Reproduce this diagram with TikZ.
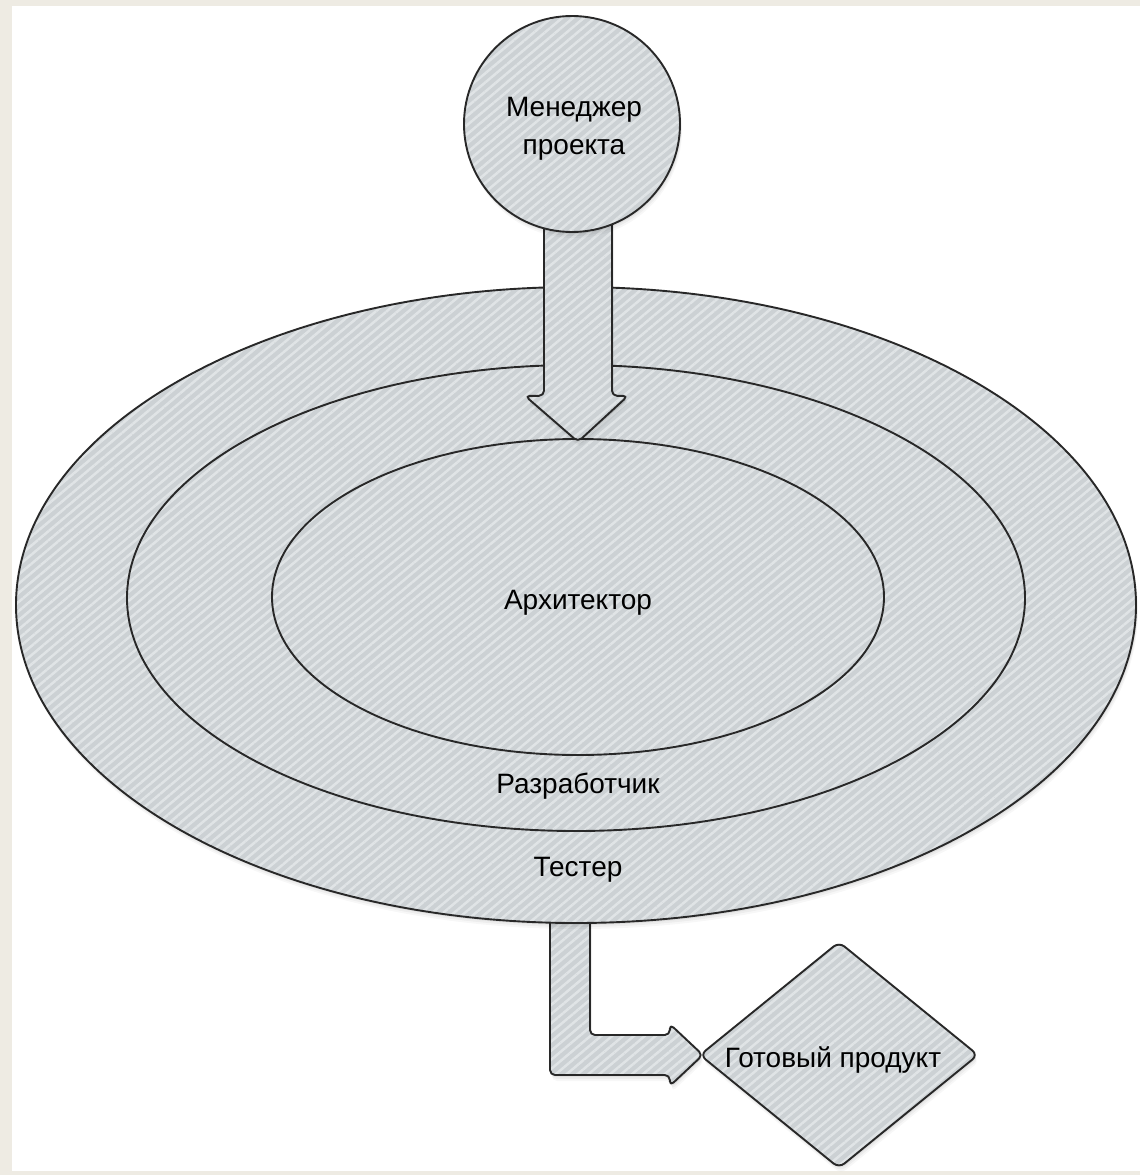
\documentclass[tikz,border=0pt]{standalone}
\usepackage{fontspec}
\setmainfont{Liberation Sans}
\usetikzlibrary{shapes.geometric,patterns.meta,calc}
\definecolor{beige}{RGB}{238,235,227}
\definecolor{basegray}{RGB}{204,209,212}
\definecolor{stripe}{RGB}{224,228,230}
\definecolor{edge}{RGB}{40,40,40}
\pgfdeclarelayer{back}
\pgfdeclarelayer{under}
\pgfdeclarelayer{arrowl}
\pgfdeclarelayer{top}
\pgfsetlayers{back,under,main,arrowl,top}
\tikzset{
  hatched/.style={fill=basegray,
    postaction={pattern={Lines[angle=40,distance=7pt,line width=2.5pt]},
      pattern color=stripe, draw=edge, line width=1.9pt}},
  shade/.style={
    preaction={fill=black, fill opacity=0.05, transform canvas={xshift=1pt,yshift=-2pt}},
    preaction={fill=black, fill opacity=0.04, transform canvas={xshift=1.5pt,yshift=-4pt}},
    preaction={fill=black, fill opacity=0.03, transform canvas={xshift=2pt,yshift=-6pt}}},
  ring/.style={ellipse, hatched, inner sep=0pt},
  lbl/.style={font=\fontsize{28}{38}\selectfont, text=black, inner sep=0pt, align=center},
  blockarrow/.style={hatched, rounded corners=5pt, line join=round}
}
\begin{document}
\begin{tikzpicture}[x=1pt,y=-1pt]
\useasboundingbox (0,0) rectangle (1140,1175);
\begin{pgfonlayer}{back}
  \fill[beige] (0,0) rectangle (1140,1175);
  \fill[white] (12,6) rectangle (1140,1171);
\end{pgfonlayer}

% project manager circle (on top)
\begin{pgfonlayer}{top}
  \node[shade, circle, hatched, minimum size=216pt, inner sep=0pt] (pm) at (572,124) {};
  \node[lbl] (pmlbl) at ($(pm.center)+(2,5)$) {Менеджер\\проекта};
\end{pgfonlayer}

% rings
\node[shade, ring, minimum width=1120pt, minimum height=636pt] (test) at (576,605) {};
\node[ring, minimum width=898pt, minimum height=466pt] (dev) at (576,598) {};
\node[ring, minimum width=612pt, minimum height=316pt] (arch) at (578,597) {};
\node[lbl] (archlbl) at (578,603) {Архитектор};
\node[lbl] (devlbl) at (578,786) {Разработчик};
\node[lbl] (testlbl) at (578,870) {Тестер};

% finished product
\node[shade, diamond, hatched, minimum width=278pt, minimum height=226pt, inner sep=0pt, rounded corners=7pt] (prod) at (839,1055) {};
\node[lbl] (prodlbl) at (833,1060) {Готовый продукт};

% arrow from manager into rings
\begin{pgfonlayer}{arrowl}
  \coordinate (dtop) at (arch.north |- pm.center);
  \coordinate (dtip) at ($(arch.north)+(0,3)$);
  \path[shade, blockarrow]
    ($(dtop)+(-34,0)$) -- ($(dtip)+(-34,-46)$) -- ($(dtip)+(-53,-46)$) --
    (dtip) -- ($(dtip)+(50,-46)$) -- ($(dtip)+(34,-46)$) --
    ($(dtop)+(34,0)$) -- cycle;
\end{pgfonlayer}

% arrow from rings to product
\begin{pgfonlayer}{under}
  \coordinate (bt) at ($(test.south)+(-6,-40)$);
  \coordinate (btip) at ($(prod.west)+(3,0)$);
  \path[shade, blockarrow]
    ($(bt)+(-20,0)$) -- ($(bt |- prod.west)+(-20,20)$) --
    ($(prod.west)+(-30,20)$) -- ($(prod.west)+(-30,31)$) --
    (btip) --
    ($(prod.west)+(-30,-31)$) -- ($(prod.west)+(-30,-20)$) --
    ($(bt |- prod.west)+(20,-20)$) -- ($(bt)+(20,0)$) -- cycle;
\end{pgfonlayer}
\end{tikzpicture}
\end{document}
